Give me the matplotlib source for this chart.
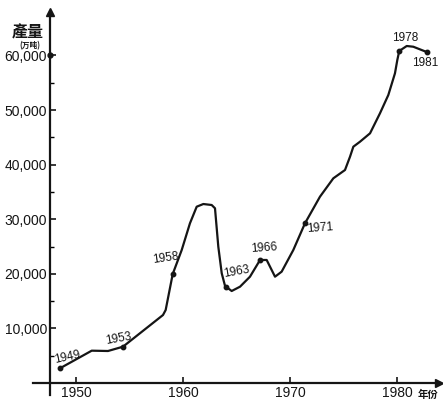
import numpy as np
import matplotlib
matplotlib.use('Agg')
import matplotlib.pyplot as plt

# Output curve (year, 万吨)
years = [1948.5, 1951.47, 1952.99, 1954.39, 1958.13, 1958.38, 1959.04, 1959.88,
         1960.65, 1961.28, 1961.90, 1962.68, 1962.99, 1963.30, 1963.62, 1963.93,
         1964.55, 1965.33, 1966.26, 1967.20, 1967.82, 1968.60, 1969.22, 1970.31,
         1971.40, 1972.80, 1974.05, 1975.14, 1975.61, 1975.92, 1976.54, 1977.48,
         1978.41, 1979.19, 1979.81, 1980.03, 1980.21, 1980.91, 1981.52, 1982.78]
output = [2690, 5920, 5860, 6650, 12450, 13370, 19960, 24360,
          29250, 32290, 32780, 32600, 32000, 24960, 20090, 17770,
          16850, 17640, 19470, 22530, 22530, 19470, 20390, 24360,
          29250, 34120, 37490, 39010, 41450, 43280, 44190, 45730,
          49400, 52750, 56720, 59160, 60810, 61720, 61590, 60620]

# marked points and their labels
mark_labels = ['1949', '1953', '1958', '1963', '1966', '1971', '1978', '1981']
mark_years = [1948.5, 1954.39, 1959.04, 1964.02, 1967.20, 1971.40, 1980.21, 1982.78]
mark_output = [2690, 6650, 19960, 17640, 22530, 29250, 60810, 60620]

x_ticks = [1950, 1960, 1970, 1980]
y_ticks = [10000, 20000, 30000, 40000, 50000, 60000]
y_tick_labels = ['10,000', '20,000', '30,000', '40,000', '50,000', '60,000']

num_font = 'Liberation Sans'
cjk = ['Noto Sans CJK TC', 'DejaVu Sans']

fig = plt.figure(figsize=(4.43, 4.01), dpi=100)
ax = fig.add_axes([0, 0, 1, 1])

# pixel -> data mapping: x px 76 = 1950, 10.7 px/yr; y px 383 = 0, 54.6 px per 10k
ax.set_xlim(1950 - 76 / 10.7, 1950 + (443 - 76) / 10.7)
ax.set_ylim((383 - 401) / 54.6 * 10000, 383 / 54.6 * 10000)
y_axis_x = 1950 + (50 - 76) / 10.7

ink = '#151515'
ax.plot(years, output, color=ink, lw=1.6, solid_joinstyle='round')
ax.plot(mark_years, mark_output, 'o', color=ink, ms=3.2)

offsets = [(7, 11), (-5, 8), (-7, 16), (10, 15), (4, 12), (15, -5), (6, 13), (-2, -11)]
rots = [12, 10, 8, 10, 4, 4, 0, 0]
for lab, xv, yv, off, r in zip(mark_labels, mark_years, mark_output, offsets, rots):
    ax.annotate(lab, (xv, yv), xytext=off, textcoords='offset pixels',
                ha='center', va='center', fontsize=8.5, rotation=r,
                family=num_font, color=ink)

# axes lines
for s in ['top', 'right']:
    ax.spines[s].set_visible(False)
ax.spines['left'].set_position(('data', y_axis_x))
ax.spines['bottom'].set_position(('data', 0))
ax.spines['left'].set_bounds((383 - 395) / 54.6 * 10000, (383 - 14) / 54.6 * 10000)
ax.spines['bottom'].set_bounds(1950 + (33 - 76) / 10.7, 1950 + (438 - 76) / 10.7)
for s in ['left', 'bottom']:
    ax.spines[s].set_linewidth(1.6)
    ax.spines[s].set_color(ink)

# arrow heads
ax.plot([y_axis_x], [(383 - 12) / 54.6 * 10000], marker='^', color=ink, ms=6, clip_on=False)
ax.plot([1950 + (439 - 76) / 10.7], [0], marker='>', color=ink, ms=6, clip_on=False)
ax.plot([y_axis_x], [60000], 'o', color=ink, ms=3.5)

ax.set_xticks(x_ticks)
ax.set_xticklabels([str(v) for v in x_ticks], family=num_font, fontsize=10, color=ink)
ax.set_yticks(y_ticks)
ax.set_yticklabels(y_tick_labels, family=num_font, fontsize=10, color=ink)
ax.set_yticks(np.arange(5000, 60000, 10000), minor=True)
ax.tick_params(axis='both', direction='in', length=4, width=1.2, color=ink, pad=2)
ax.tick_params(axis='y', which='minor', direction='in', length=3, width=1)

ax.text(28, 401 - 32, '產量', transform=None, ha='center', va='center',
        fontsize=11.5, fontweight='bold', family=cjk, color=ink)
ax.text(30, 401 - 46, '(万吨)', transform=None, ha='center', va='center',
        fontsize=5.5, fontweight='bold', family=cjk, color=ink)
ax.text(428, 401 - 395, '年份', transform=None, ha='center', va='center',
        fontsize=7.5, fontweight='bold', family=cjk, color=ink)

fig.savefig('out.png', dpi=100)
